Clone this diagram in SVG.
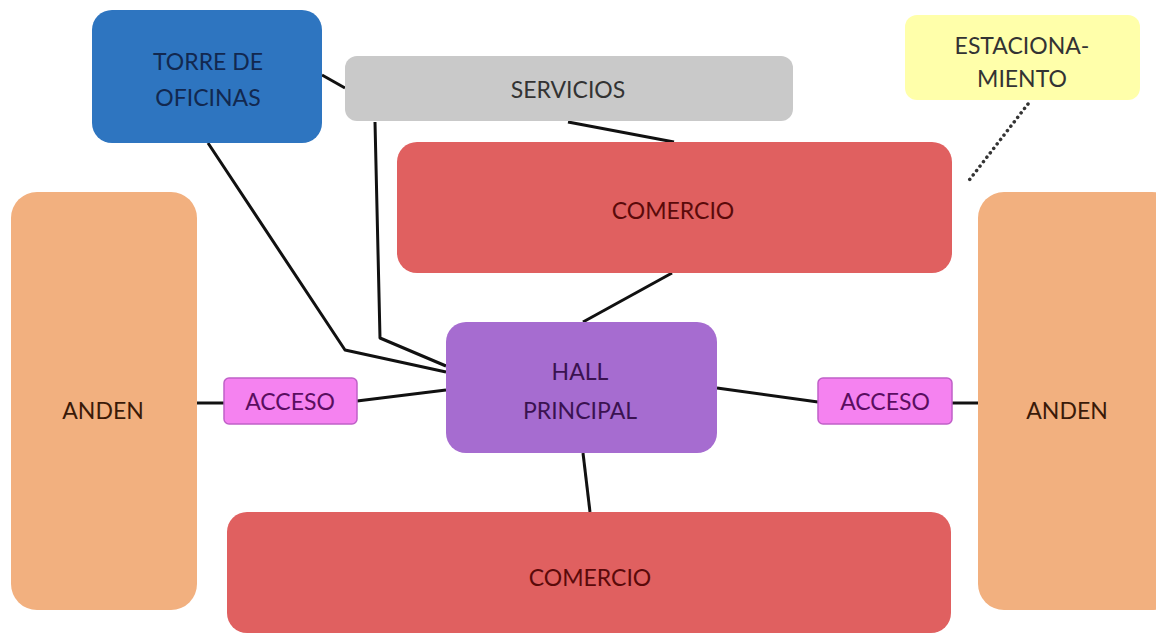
<svg xmlns="http://www.w3.org/2000/svg" width="1156" height="636" viewBox="0 0 1156 636">
<style>
text{font-family:Lato,"Open Sans","Liberation Sans",sans-serif;font-size:23px;text-anchor:middle;dominant-baseline:central}
.c{stroke:#111;stroke-width:3;fill:none;stroke-linejoin:round}
</style>
<rect width="1156" height="636" fill="#ffffff"/>
<g id="connectors">
<polyline class="c" points="322,75 345,88"/>
<polyline class="c" points="208,143 345,350 446,372"/>
<polyline class="c" points="375,122 380,338 446,366"/>
<polyline class="c" points="568,122 674,142"/>
<polyline class="c" points="672,273 583,322"/>
<polyline class="c" points="197,403 224,403"/>
<polyline class="c" points="357,401 446,390"/>
<polyline class="c" points="717,388 818,402"/>
<polyline class="c" points="952,403 978,403"/>
<polyline class="c" points="583,453 590,512"/>
<line x1="1028" y1="104" x2="967" y2="183" stroke="#333" stroke-width="3.5" stroke-dasharray="0.1 5.5" stroke-linecap="round"/>
</g>
<g id="torre"><rect x="92" y="10" width="230" height="133" rx="20" fill="#2E75C0"/><text x="208" y="61" fill="#12284F">TORRE DE</text><text x="208" y="97" fill="#12284F">OFICINAS</text></g>
<g id="servicios"><rect x="345" y="56" width="448" height="65" rx="12" fill="#C9C9C9"/><text x="568" y="89" fill="#333">SERVICIOS</text></g>
<g id="estacionamiento"><rect x="905" y="15" width="235" height="85" rx="12" fill="#FFFFAA"/><text x="1022" y="45" fill="#333">ESTACIONA-</text><text x="1022" y="78" fill="#333">MIENTO</text></g>
<g id="comercio1"><rect x="397" y="142" width="555" height="131" rx="20" fill="#E06060"/><text x="673" y="210" fill="#5A0A0A">COMERCIO</text></g>
<g id="anden1"><rect x="11" y="192" width="186" height="418" rx="26" fill="#F2B07F"/><text x="103" y="410" fill="#3A1A08">ANDEN</text></g>
<g id="anden2"><rect x="978" y="192" width="200" height="418" rx="26" fill="#F2B07F"/><text x="1067" y="410" fill="#3A1A08">ANDEN</text></g>
<g id="hall"><rect x="446" y="322" width="271" height="131" rx="20" fill="#A66CD0"/><text x="580" y="371" fill="#3A1250">HALL</text><text x="580" y="410" fill="#3A1250">PRINCIPAL</text></g>
<g id="acceso1"><rect x="224" y="378" width="133" height="46" rx="5" fill="#F582F0" stroke="#C060C8" stroke-width="1.5"/><text x="290" y="401" fill="#5A0E60">ACCESO</text></g>
<g id="acceso2"><rect x="818" y="378" width="134" height="46" rx="5" fill="#F582F0" stroke="#C060C8" stroke-width="1.5"/><text x="885" y="401" fill="#5A0E60">ACCESO</text></g>
<g id="comercio2"><rect x="227" y="512" width="724" height="121" rx="20" fill="#E06060"/><text x="590" y="577" fill="#5A0A0A">COMERCIO</text></g>
</svg>
